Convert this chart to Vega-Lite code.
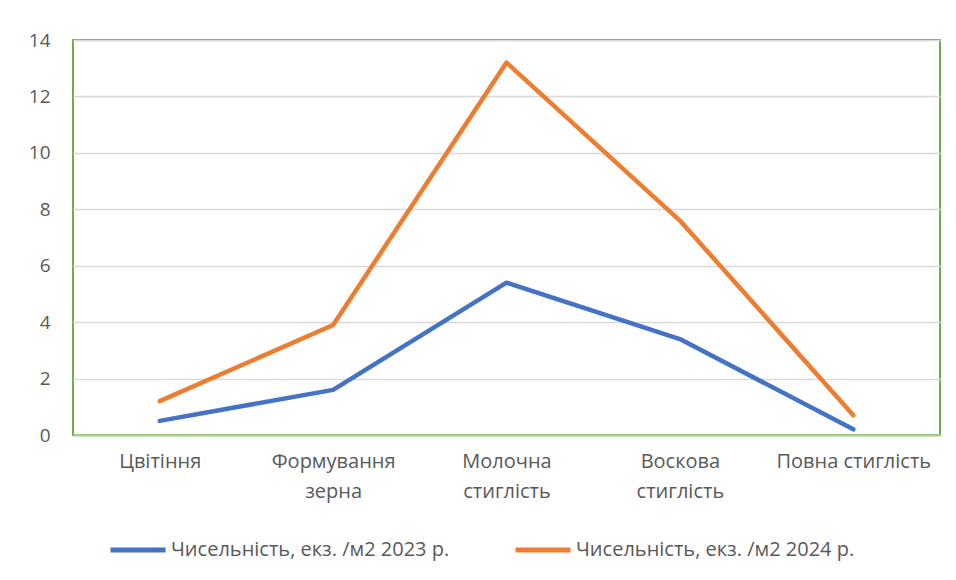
{
  "$schema": "https://vega.github.io/schema/vega-lite/v6.json",
  "width": 867,
  "height": 395,
  "autosize": {"type": "none"},
  "padding": {"left": 73, "top": 40, "right": 16, "bottom": 145},
  "background": "white",
  "config": {
    "view": {"stroke": "#70AD47", "strokeWidth": 2},
    "font": "Open Sans",
    "axis": {"labelFont": "Open Sans", "labelColor": "#595959", "labelFontSize": 19}
  },
  "data": {
    "values": [
      {"stage": "Цвітіння", "series": "Чисельність, екз. /м2  2023 р.", "value": 0.5},
      {"stage": "Формування зерна", "series": "Чисельність, екз. /м2  2023 р.", "value": 1.6},
      {"stage": "Молочна стиглість", "series": "Чисельність, екз. /м2  2023 р.", "value": 5.4},
      {"stage": "Воскова стиглість", "series": "Чисельність, екз. /м2  2023 р.", "value": 3.4},
      {"stage": "Повна стиглість", "series": "Чисельність, екз. /м2  2023 р.", "value": 0.2},
      {"stage": "Цвітіння", "series": "Чисельність, екз. /м2  2024 р.", "value": 1.2},
      {"stage": "Формування зерна", "series": "Чисельність, екз. /м2  2024 р.", "value": 3.9},
      {"stage": "Молочна стиглість", "series": "Чисельність, екз. /м2  2024 р.", "value": 13.2},
      {"stage": "Воскова стиглість", "series": "Чисельність, екз. /м2  2024 р.", "value": 7.6},
      {"stage": "Повна стиглість", "series": "Чисельність, екз. /м2  2024 р.", "value": 0.7}
    ]
  },
  "mark": {"type": "line", "strokeWidth": 4.5, "strokeCap": "round", "strokeJoin": "round"},
  "encoding": {
    "x": {
      "field": "stage",
      "type": "nominal",
      "sort": null,
      "scale": {"type": "point", "padding": 0.5},
      "axis": {
        "title": null,
        "labelAngle": 0,
        "ticks": false,
        "grid": false,
        "domainColor": "#A9D18E",
        "domainWidth": 2,
        "labelPadding": 16,
        "labelLineHeight": 30,
        "labelBaseline": "top",
        "labelFontSize": 20,
        "labelExpr": "datum.value == 'Повна стиглість' ? datum.value : split(datum.value, ' ')"
      }
    },
    "y": {
      "field": "value",
      "type": "quantitative",
      "scale": {"domain": [0, 14]},
      "axis": {
        "title": null,
        "values": [0, 2, 4, 6, 8, 10, 12, 14],
        "domain": false,
        "ticks": false,
        "gridColor": "#D9D9D9",
        "gridWidth": 1.5,
        "labelPadding": 23
      }
    },
    "color": {
      "field": "series",
      "type": "nominal",
      "scale": {"range": ["#4472C4", "#ED7D31"]},
      "legend": {
        "title": null,
        "orient": "none",
        "direction": "horizontal",
        "legendX": 35,
        "legendY": 480,
        "symbolType": "stroke",
        "symbolSize": 3025,
        "symbolStrokeWidth": 5,
        "labelFontSize": 20,
        "labelColor": "#595959",
        "labelFont": "Open Sans",
        "labelOffset": 3,
        "labelLimit": 400,
        "columnPadding": 50
      }
    }
  }
}
